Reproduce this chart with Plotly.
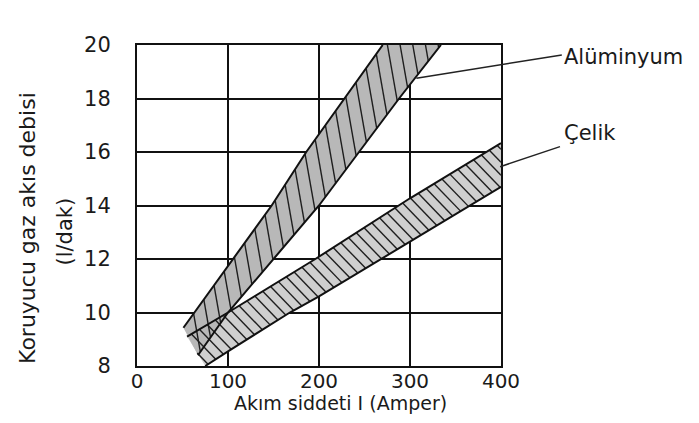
import numpy as np
import plotly.graph_objects as go

# ---- data ----
al_upper_x = [51, 100, 148, 186, 228, 270]
al_upper_y = [9.43, 11.75, 14.0, 16.0, 18.0, 20.0]
al_lower_x = [67, 100, 200, 288, 334]
al_lower_y = [8.4, 10.0, 14.0, 18.0, 20.0]

st_upper_x = [55, 100, 196, 300, 400]
st_upper_y = [9.1, 10.0, 12.0, 14.27, 16.33]
st_lower_x = [75, 100, 168, 200, 300, 400]
st_lower_y = [8.0, 8.55, 10.0, 10.6, 12.65, 14.7]

x_ticks = [0, 100, 200, 300, 400]
y_ticks = [8, 10, 12, 14, 16, 18, 20]
X_RANGE = [0, 400]
Y_RANGE = [8, 20]

# plot geometry (pixels); the page body adds an 8px offset
W, H = 683, 407
ML, MT = 129, 37
MR = W - 493
MB = H - 358
PW = W - ML - MR
PH = H - MT - MB
KX = PW / (X_RANGE[1] - X_RANGE[0])
KY = PH / (Y_RANGE[1] - Y_RANGE[0])


def polygon(ux, uy, lx, ly):
    px = list(ux) + list(lx[::-1]) + [ux[0]]
    py = list(uy) + list(ly[::-1]) + [uy[0]]
    return px, py


def hatch(px, py, angle_deg, spacing, phase=0.0):
    """hatch lines clipped to polygon, computed in screen pixel space"""
    P = np.column_stack([np.array(px) * KX, np.array(py) * KY])
    a = np.radians(angle_deg)
    d = np.array([np.cos(a), np.sin(a)])
    n = np.array([-d[1], d[0]])
    proj = P @ n
    cs = np.arange(np.floor(proj.min() / spacing) * spacing + phase, proj.max(), spacing)
    hx, hy = [], []
    for c in cs:
        pts = []
        for i in range(len(P) - 1):
            p1, p2 = P[i], P[i + 1]
            f1, f2 = p1 @ n - c, p2 @ n - c
            if (f1 > 0) != (f2 > 0):
                t = f1 / (f1 - f2)
                pts.append(p1 + t * (p2 - p1))
        pts.sort(key=lambda p: p @ d)
        for j in range(0, len(pts) - 1, 2):
            for p in (pts[j], pts[j + 1]):
                hx.append(p[0] / KX)
                hy.append(p[1] / KY)
            hx.append(None)
            hy.append(None)
    return hx, hy


fig = go.Figure()

al_px, al_py = polygon(al_upper_x, al_upper_y, al_lower_x, al_lower_y)
st_px, st_py = polygon(st_upper_x, st_upper_y, st_lower_x, st_lower_y)

fig.add_trace(go.Scatter(x=st_px, y=st_py, fill="toself", fillcolor="#cfcfcf",
                         line=dict(width=0), mode="lines", hoverinfo="skip"))
fig.add_trace(go.Scatter(x=al_px, y=al_py, fill="toself", fillcolor="#b8b8b8",
                         line=dict(width=0), mode="lines", hoverinfo="skip"))

hx, hy = hatch(st_px, st_py, -46, 9.0, 3.0)
fig.add_trace(go.Scatter(x=hx, y=hy, mode="lines", line=dict(color="#1e1e1e", width=1.4),
                         hoverinfo="skip"))
hx, hy = hatch(al_px, al_py, -80, 12.5, 2.0)
fig.add_trace(go.Scatter(x=hx, y=hy, mode="lines", line=dict(color="#1e1e1e", width=1.4),
                         hoverinfo="skip"))

for xs, ys in [(al_upper_x, al_upper_y), (al_lower_x, al_lower_y),
               (st_upper_x, st_upper_y), (st_lower_x, st_lower_y)]:
    fig.add_trace(go.Scatter(x=xs, y=ys, mode="lines", line=dict(color="#111111", width=2),
                             hoverinfo="skip"))


def to_paper_x(x):
    return (x - X_RANGE[0]) / (X_RANGE[1] - X_RANGE[0])


def to_paper_y(y):
    return (y - Y_RANGE[0]) / (Y_RANGE[1] - Y_RANGE[0])


leaders = [((307, 18.76), (466.8, 19.63)), ((399, 15.45), (464.8, 16.2))]
shapes = []
for (x0, y0), (x1, y1) in leaders:
    shapes.append(dict(type="line", xref="paper", yref="paper",
                       x0=to_paper_x(x0), y0=to_paper_y(y0),
                       x1=to_paper_x(x1), y1=to_paper_y(y1),
                       line=dict(color="#222222", width=1.5), layer="above"))

FONT = "DejaVu Sans"
TXT = "#1a1a1a"
annotations = [
    dict(text="Alüminyum", x=to_paper_x(467), y=to_paper_y(19.55), xref="paper", yref="paper",
         xanchor="left", yanchor="middle", showarrow=False,
         font=dict(family=FONT, size=21, color=TXT)),
    dict(text="Çelik", x=to_paper_x(467), y=to_paper_y(16.71), xref="paper", yref="paper",
         xanchor="left", yanchor="middle", showarrow=False,
         font=dict(family=FONT, size=21, color=TXT)),
    dict(text="Akım siddeti I (Amper)", x=to_paper_x(224), y=-0.114, xref="paper", yref="paper",
         xanchor="center", yanchor="middle", showarrow=False,
         font=dict(family=FONT, size=19, color=TXT)),
    dict(text="Koruyucu gaz akıs debisi", x=-0.2995, y=0.43, xref="paper", yref="paper",
         xanchor="center", yanchor="middle", textangle=-90, showarrow=False,
         font=dict(family=FONT, size=22, color=TXT)),
    dict(text="(l/dak)", x=-0.2005, y=0.419, xref="paper", yref="paper",
         xanchor="center", yanchor="middle", textangle=-90, showarrow=False,
         font=dict(family=FONT, size=21, color=TXT)),
]

fig.update_layout(
    width=W, height=H,
    margin=dict(l=ML, r=MR, t=MT, b=MB),
    paper_bgcolor="white", plot_bgcolor="white",
    showlegend=False,
    shapes=shapes,
    annotations=annotations,
    font=dict(family=FONT, size=21, color=TXT),
)
fig.update_xaxes(range=X_RANGE, tickvals=x_ticks, showgrid=True, gridcolor="#111111",
                 gridwidth=1.5, showline=True, linecolor="#111111", linewidth=2, mirror=True,
                 zeroline=False, ticks="", tickfont=dict(size=20), ticklabelstandoff=-4)
fig.update_yaxes(range=Y_RANGE, tickvals=y_ticks, showgrid=True, gridcolor="#111111",
                 gridwidth=1.5, showline=True, linecolor="#111111", linewidth=2, mirror=True,
                 zeroline=False, ticks="", tickfont=dict(size=21), ticklabelstandoff=20)

fig.write_html("out.html")
